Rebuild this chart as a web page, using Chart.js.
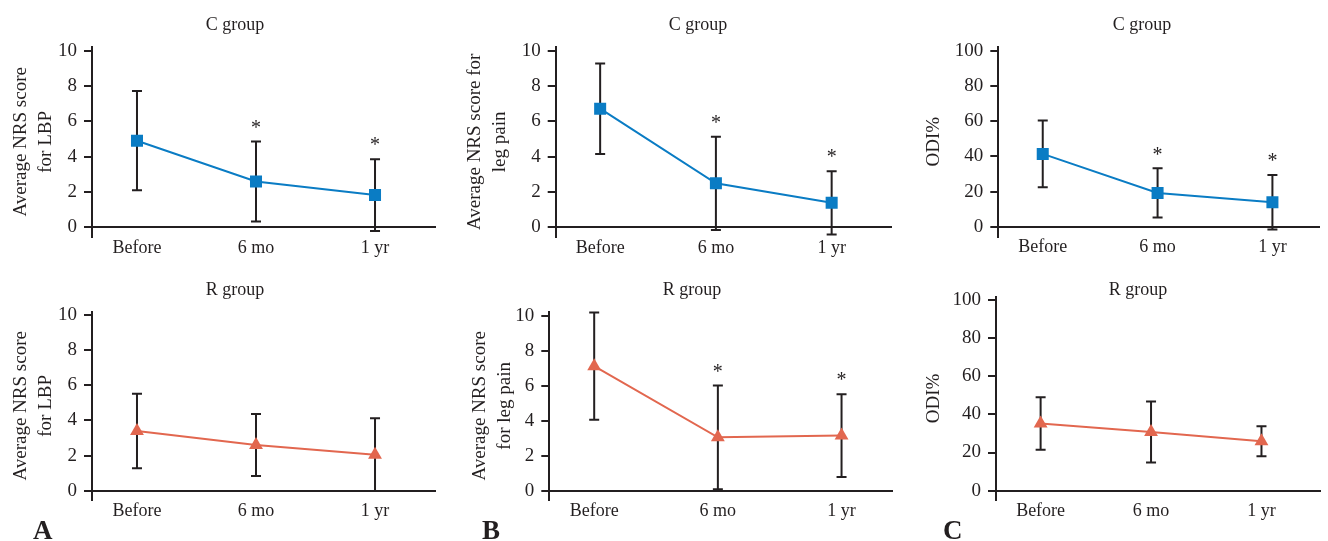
<!DOCTYPE html>
<html>
<head>
<meta charset="utf-8">
<script src="https://cdn.jsdelivr.net/npm/chart.js@4"></script>
<style>
  html, body { margin: 0; padding: 0; background: #fff; }
  #wrap { position: relative; width: 1328px; height: 541px; overflow: hidden; }
  .panel { position: absolute; }
</style>
</head>
<body>
<div id="wrap"></div>
<script>
// x categories
const periods = ['Before', '6 mo', '1 yr'];

// C group (top row), mean and SD
const cLbpMean = [4.9, 2.58, 1.81];
const cLbpSd = [2.82, 2.27, 2.04];
const cLbpSig = [false, true, true];

const cLegMean = [6.72, 2.48, 1.37];
const cLegSd = [2.57, 2.65, 1.8];
const cLegSig = [false, true, true];

const cOdiMean = [41.4, 19.2, 13.9];
const cOdiSd = [19.0, 14.0, 15.5];
const cOdiSig = [false, true, true];

// R group (bottom row)
const rLbpMean = [3.4, 2.6, 2.05];
const rLbpSd = [2.12, 1.77, 2.07];
const rLbpSig = [false, false, false];

const rLegMean = [7.12, 3.05, 3.15];
const rLegSd = [3.07, 2.97, 2.37];
const rLegSig = [false, true, true];

const rOdiMean = [35.2, 30.8, 25.9];
const rOdiSd = [13.8, 16.0, 7.9];
const rOdiSig = [false, false, false];

const ink = '#231f20';
const blue = '#0a7cc4';
const red = '#e2674f';
const serif = "'Liberation Serif', 'Times New Roman', serif";

const panels = [
  {box: [0, 0, 445, 270], axisX: 92, right: 435, top: 46.7, bottom: 237, ymin: -0.57, ymax: 10.24, step: 2,
   xmin: -0.378, xmax: 2.504, ytitle: ['Average NRS score', 'for LBP'], tpad: 8, title: 'C group', tx: 235, ty: 25.5,
   mean: cLbpMean, sd: cLbpSd, sig: cLbpSig, color: blue, marker: 'rect', radius: 8.5},
  {box: [440, 0, 900, 270], axisX: 555.7, right: 898, top: 46.7, bottom: 237, ymin: -0.57, ymax: 10.24, step: 2,
   xmin: -0.384, xmax: 2.517, ytitle: ['Average NRS score for', 'leg pain'], tpad: 22, title: 'C group', tx: 258, ty: 25.5,
   mean: cLegMean, sd: cLegSd, sig: cLegSig, color: blue, marker: 'rect', radius: 8.5},
  {box: [890, 0, 1328, 270], axisX: 998.3, right: 1328, top: 46.7, bottom: 236.7, ymin: -5.7, ymax: 102.4, step: 20,
   xmin: -0.387, xmax: 2.41, ytitle: 'ODI%', tpad: 31, title: 'C group', tx: 252, ty: 25.5,
   mean: cOdiMean, sd: cOdiSd, sig: cOdiSig, color: blue, marker: 'rect', radius: 8.5},
  {box: [0, 270, 445, 541], axisX: 92, right: 435, top: 311.7, bottom: 500, ymin: -0.53, ymax: 10.19, step: 2,
   xmin: -0.378, xmax: 2.504, ytitle: ['Average NRS score', 'for LBP'], tpad: 8, title: 'R group', tx: 235, ty: 20.7,
   mean: rLbpMean, sd: rLbpSd, sig: rLbpSig, color: red, marker: 'triangle', radius: 8, letter: 'A', lx: 33},
  {box: [440, 270, 900, 541], axisX: 549.3, right: 898, top: 311.7, bottom: 500, ymin: -0.53, ymax: 10.23, step: 2,
   xmin: -0.363, xmax: 2.408, ytitle: ['Average NRS score', 'for leg pain'], tpad: 27, title: 'R group', tx: 252, ty: 20.7,
   mean: rLegMean, sd: rLegSd, sig: rLegSig, color: red, marker: 'triangle', radius: 8, letter: 'B', lx: 42},
  {box: [890, 270, 1328, 541], axisX: 996, right: 1328, top: 296.7, bottom: 500, ymin: -4.9, ymax: 101.7, step: 20,
   xmin: -0.404, xmax: 2.53, ytitle: 'ODI%', tpad: 31, title: 'R group', tx: 248, ty: 20.7,
   mean: rOdiMean, sd: rOdiSd, sig: rOdiSig, color: red, marker: 'triangle', radius: 8, letter: 'C', lx: 53}
];

// error bars, asterisks, panel title and letter
function makeDeco(p) {
  return {
    id: 'deco',
    beforeDatasetsDraw(chart) {
      const {ctx, scales: {x, y}} = chart;
      ctx.save();
      ctx.strokeStyle = ink;
      ctx.lineWidth = 2;
      p.mean.forEach((m, i) => {
        const px = x.getPixelForValue(i);
        const hi = y.getPixelForValue(m + p.sd[i]);
        const lo = y.getPixelForValue(m - p.sd[i]);
        ctx.beginPath();
        ctx.moveTo(px, hi); ctx.lineTo(px, lo);
        ctx.moveTo(px - 5, hi); ctx.lineTo(px + 5, hi);
        ctx.moveTo(px - 5, lo); ctx.lineTo(px + 5, lo);
        ctx.stroke();
      });
      ctx.restore();
    },
    afterDraw(chart) {
      const {ctx, scales: {x, y}} = chart;
      ctx.save();
      ctx.fillStyle = ink;
      ctx.textAlign = 'center';
      ctx.textBaseline = 'middle';
      ctx.font = '20px ' + serif;
      p.sig.forEach((s, i) => {
        if (!s) return;
        const px = x.getPixelForValue(i);
        const hi = y.getPixelForValue(p.mean[i] + p.sd[i]);
        ctx.fillText('*', px, hi - 13);
      });
      ctx.font = '18px ' + serif;
      ctx.fillText(p.title, p.tx, p.ty);
      if (p.letter) {
        ctx.textAlign = 'left';
        ctx.textBaseline = 'alphabetic';
        ctx.font = 'bold 27px ' + serif;
        ctx.fillText(p.letter, p.lx, 269);
      }
      ctx.restore();
    }
  };
}

const wrap = document.getElementById('wrap');
panels.forEach(p => {
  const [l, t, r, b] = p.box;
  const div = document.createElement('div');
  div.className = 'panel';
  div.style.left = l + 'px';
  div.style.top = t + 'px';
  div.style.width = (r - l) + 'px';
  div.style.height = (b - t) + 'px';
  const canvas = document.createElement('canvas');
  div.appendChild(canvas);
  wrap.appendChild(div);

  new Chart(canvas, {
    type: 'line',
    data: {
      datasets: [{
        data: p.mean.map((v, i) => ({x: i, y: v})),
        borderColor: p.color,
        backgroundColor: p.color,
        borderWidth: 2,
        pointStyle: p.marker,
        pointRadius: p.radius,
        pointHoverRadius: p.radius,
        pointBorderWidth: 0,
        tension: 0,
        fill: false
      }]
    },
    options: {
      responsive: true,
      maintainAspectRatio: false,
      animation: false,
      layout: {padding: {left: 0, right: r - p.right, top: p.top - t, bottom: b - p.bottom}},
      plugins: {legend: {display: false}, tooltip: {enabled: false}},
      scales: {
        x: {
          type: 'linear',
          position: {y: 0},
          min: p.xmin,
          max: p.xmax,
          afterBuildTicks: s => { s.ticks = periods.map((_, i) => ({value: i})); },
          ticks: {callback: v => periods[v], color: ink, font: {family: serif, size: 18}, padding: 10, maxRotation: 0},
          grid: {display: false, drawTicks: false},
          border: {color: ink, width: 2}
        },
        y: {
          min: p.ymin,
          max: p.ymax,
          afterFit: s => { s.width = p.axisX - l; },
          ticks: {stepSize: p.step, includeBounds: false, color: ink, font: {family: serif, size: 19}, padding: 7},
          grid: {drawOnChartArea: false, tickLength: 8, color: ink, lineWidth: 2},
          border: {color: ink, width: 2},
          title: {display: true, text: p.ytitle, color: ink, font: {family: serif, size: 19, lineHeight: 1.35}, padding: {top: p.tpad, bottom: 0}}
        }
      }
    },
    plugins: [makeDeco(p)]
  });
});
</script>
</body>
</html>
